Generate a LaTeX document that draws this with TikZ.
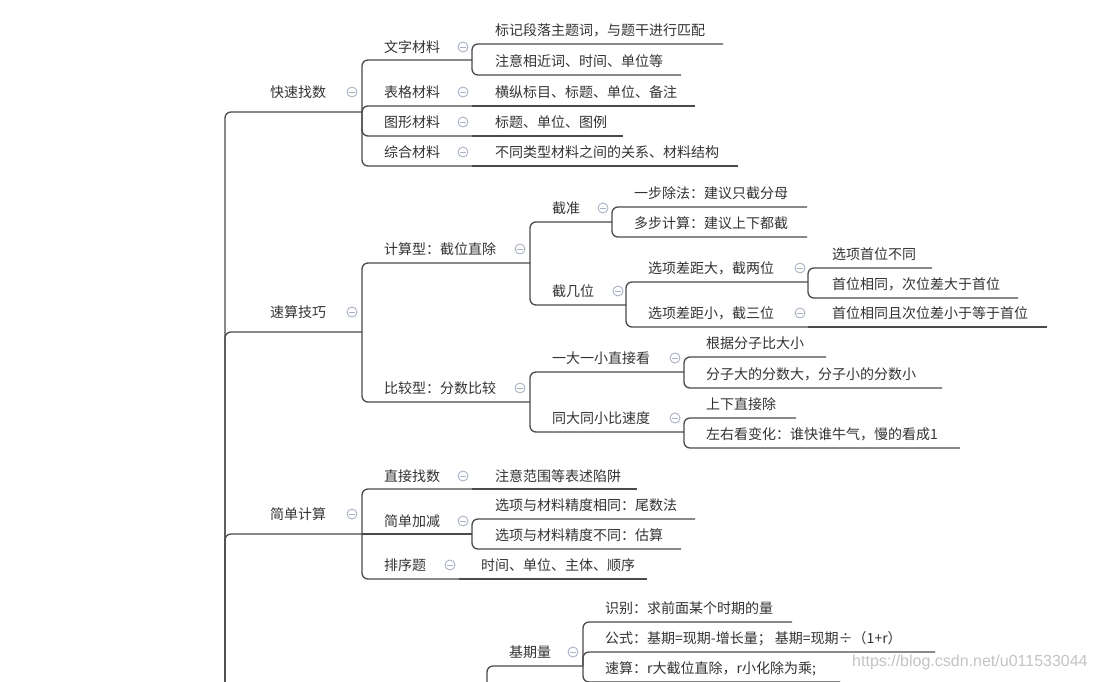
\documentclass[tikz,border=0pt]{standalone}
\usepackage{fontspec}
\setmainfont{Noto Sans CJK SC}
\newfontfamily\wmfont{Liberation Sans}
\definecolor{txt}{HTML}{333333}
\definecolor{ln}{HTML}{4A4A4A}
\definecolor{btncol}{HTML}{A9B1C6}
\definecolor{wm}{HTML}{C4C4C4}
\tikzset{
  topic/.style={anchor=west, inner sep=0pt, text=txt, font=\fontsize{14}{16}\selectfont, text height=11.6pt, text depth=1pt},
  conn/.style={draw=ln, line width=1.3pt, rounded corners=6pt},
  btn/.style={circle, draw=btncol, line width=0.9pt, minimum size=10pt, inner sep=0pt,
    path picture={\draw[btncol, line width=0.9pt] ([xshift=-2.6pt]path picture bounding box.center) -- ([xshift=2.6pt]path picture bounding box.center);}},
  watermark/.style={anchor=west, inner sep=0pt, text=wm, font=\wmfont\fontsize{16}{18}\selectfont}
}
\begin{document}
\begin{tikzpicture}[x=1pt,y=-1pt]
\useasboundingbox (0,0) rectangle (1095,681);
\fill[white] (0,0) rectangle (1095,681);
\clip (0,0) rectangle (1095,681);

% ---------- junction / end coordinates ----------
\coordinate (root) at (225,760);
\coordinate (k1) at (362,112);
\coordinate (k2) at (362,332);
\coordinate (k3) at (362,534);
% under k1
\coordinate (a1) at (472,60);
\coordinate (a2) at (472,106);
\coordinate (a3) at (472,136);
\coordinate (a4) at (472,166);
\coordinate (a1x) at (723,44);
\coordinate (a1y) at (681,75);
\coordinate (a2x) at (695,106);
\coordinate (a3x) at (623,136);
\coordinate (a4x) at (738,166);
% under k2
\coordinate (b1) at (530,263);
\coordinate (b2) at (530,402);
\coordinate (b11) at (612,222);
\coordinate (b12) at (626,305);
\coordinate (b111) at (807,207);
\coordinate (b112) at (807,237);
\coordinate (b121) at (808,282);
\coordinate (b122) at (808,327);
\coordinate (b1211) at (932,268);
\coordinate (b1212) at (1018,298);
\coordinate (b1221) at (1047,327);
\coordinate (b21) at (684,372);
\coordinate (b22) at (684,432);
\coordinate (b211) at (826,357);
\coordinate (b212) at (942,388);
\coordinate (b221) at (796,418);
\coordinate (b222) at (960,448);
% under k3
\coordinate (c1) at (472,489);
\coordinate (c1x) at (637,489);
\coordinate (c2) at (472,534);
\coordinate (c21) at (695,519);
\coordinate (c22) at (681,549);
\coordinate (c3) at (459,579);
\coordinate (c3x) at (647,579);
% bottom
\coordinate (d0) at (487,760);
\coordinate (d1) at (583,666);
\coordinate (d11) at (792,622);
\coordinate (d12) at (935,652);
\coordinate (d13) at (840,682);

% ---------- connectors ----------
\draw[conn] (root) |- (k1);
\draw[conn] (root) |- (k2);
\draw[conn] (root) |- (k3);
\draw[conn] (k1) |- (a1);
\draw[conn] (k1) |- (a2);
\draw[conn] (k1) |- (a3);
\draw[conn] (k1) |- (a4);
\draw[conn] (a1) |- (a1x);
\draw[conn] (a1) |- (a1y);
\draw[conn] (a2) -- (a2x);
\draw[conn] (a3) -- (a3x);
\draw[conn] (a4) -- (a4x);
\draw[conn] (k2) |- (b1);
\draw[conn] (k2) |- (b2);
\draw[conn] (b1) |- (b11);
\draw[conn] (b1) |- (b12);
\draw[conn] (b11) |- (b111);
\draw[conn] (b11) |- (b112);
\draw[conn] (b12) |- (b121);
\draw[conn] (b12) |- (b122);
\draw[conn] (b121) |- (b1211);
\draw[conn] (b121) |- (b1212);
\draw[conn] (b122) -- (b1221);
\draw[conn] (b2) |- (b21);
\draw[conn] (b2) |- (b22);
\draw[conn] (b21) |- (b211);
\draw[conn] (b21) |- (b212);
\draw[conn] (b22) |- (b221);
\draw[conn] (b22) |- (b222);
\draw[conn] (k3) |- (c1);
\draw[conn] (c1) -- (c1x);
\draw[conn] (k3) -- (c2);
\draw[conn] (c2) |- (c21);
\draw[conn] (c2) |- (c22);
\draw[conn] (k3) |- (c3);
\draw[conn] (c3) -- (c3x);
\draw[conn] (d0) |- (d1);
\draw[conn] (d1) |- (d11);
\draw[conn] (d1) |- (d12);
\draw[conn] (d1) |- (d13);

% ---------- topics ----------
\node[topic] (t-k1) at (270,92) {快速找数};
\node[topic] (t-k2) at (270,312) {速算技巧};
\node[topic] (t-k3) at (270,514) {简单计算};

\node[topic] (t-a1) at (384,47) {文字材料};
\node[topic] (t-a2) at (384,92) {表格材料};
\node[topic] (t-a3) at (384,122) {图形材料};
\node[topic] (t-a4) at (384,152) {综合材料};
\node[topic] (t-a1x) at (495,30) {标记段落主题词，与题干进行匹配};
\node[topic] (t-a1y) at (495,61) {注意相近词、时间、单位等};
\node[topic] (t-a2x) at (495,92) {横纵标目、标题、单位、备注};
\node[topic] (t-a3x) at (495,122) {标题、单位、图例};
\node[topic] (t-a4x) at (495,152) {不同类型材料之间的关系、材料结构};

\node[topic] (t-b1) at (384,249) {计算型：截位直除};
\node[topic] (t-b11) at (552,208) {截准};
\node[topic] (t-b111) at (634,193) {一步除法：建议只截分母};
\node[topic] (t-b112) at (634,223) {多步计算：建议上下都截};
\node[topic] (t-b12) at (552,291) {截几位};
\node[topic] (t-b121) at (648,268) {选项差距大，截两位};
\node[topic] (t-b1211) at (832,254) {选项首位不同};
\node[topic] (t-b1212) at (832,284) {首位相同，次位差大于首位};
\node[topic] (t-b122) at (648,313) {选项差距小，截三位};
\node[topic] (t-b1221) at (832,313) {首位相同且次位差小于等于首位};

\node[topic] (t-b2) at (384,388) {比较型：分数比较};
\node[topic] (t-b21) at (552,358) {一大一小直接看};
\node[topic] (t-b211) at (706,343) {根据分子比大小};
\node[topic] (t-b212) at (706,374) {分子大的分数大，分子小的分数小};
\node[topic] (t-b22) at (552,418) {同大同小比速度};
\node[topic] (t-b221) at (706,404) {上下直接除};
\node[topic] (t-b222) at (706,434) {左右看变化：谁快谁牛气，慢的看成1};

\node[topic] (t-c1) at (384,476) {直接找数};
\node[topic] (t-c1x) at (495,476) {注意范围等表述陷阱};
\node[topic] (t-c2) at (384,521) {简单加减};
\node[topic] (t-c21) at (495,505) {选项与材料精度相同：尾数法};
\node[topic] (t-c22) at (495,535) {选项与材料精度不同：估算};
\node[topic] (t-c3) at (384,565) {排序题};
\node[topic] (t-c3x) at (481,565) {时间、单位、主体、顺序};

\node[topic] (t-d1) at (509,652) {基期量};
\node[topic] (t-d11) at (605,608) {识别：求前面某个时期的量};
\node[topic] (t-d12) at (605,638) {公式：基期=现期-增长量； 基期=现期÷（1+r）};
\node[topic] (t-d13) at (605,668) {速算：r大截位直除，r小化除为乘;};

% ---------- collapse buttons ----------
\node[btn] (o-k1) at (352,92) {};
\node[btn] (o-k2) at (352,312) {};
\node[btn] (o-k3) at (352,514) {};
\node[btn] (o-a1) at (463,47) {};
\node[btn] (o-a2) at (463,92) {};
\node[btn] (o-a3) at (463,122) {};
\node[btn] (o-a4) at (463,152) {};
\node[btn] (o-b1) at (520,249) {};
\node[btn] (o-b2) at (520,388) {};
\node[btn] (o-b11) at (603,208) {};
\node[btn] (o-b12) at (618,291) {};
\node[btn] (o-b121) at (800,268) {};
\node[btn] (o-b122) at (800,313) {};
\node[btn] (o-b21) at (675,358) {};
\node[btn] (o-b22) at (675,418) {};
\node[btn] (o-c1) at (463,476) {};
\node[btn] (o-c2) at (463,521) {};
\node[btn] (o-c3) at (450,565) {};
\node[btn] (o-d1) at (573,652) {};

% ---------- watermark ----------
\node[watermark] (wm) at (852,662) {https://blog.csdn.net/u011533044};
\end{tikzpicture}
\end{document}
